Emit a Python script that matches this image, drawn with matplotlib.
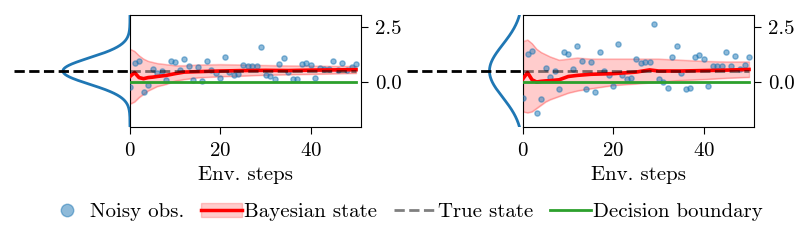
import numpy as np
import matplotlib
matplotlib.use("Agg")
import matplotlib.pyplot as plt
from matplotlib.lines import Line2D
from matplotlib.patches import Patch

plt.rcParams.update({
    "font.family": "serif",
    "font.serif": ["cmr10"],
    "mathtext.fontset": "cm",
    "axes.formatter.use_mathtext": True,
    "font.size": 15,
    "xtick.major.size": 5,
    "ytick.major.size": 5,
    "xtick.major.pad": 6,
    "ytick.major.pad": 5,
})

# données
steps = np.arange(51)
true_state = 0.5
boundary = 0.0
sigma_left = 0.6
sigma_right = 1.2

obs_left = [-0.24, 0.87, 0.96, -0.46, -0.15, 0.58, 0.4, 0.49, 0.11, 0.95,
            0.9, 0.56, 1.05, 0.73, 0.09, 0.69, 0.03, 0.95, 0.53, 0.41,
            0.18, 1.13, 0.46, 0.3, 0.35, 0.79, 0.72, 0.72, 0.75, 1.58,
            0.3, 0.26, 0.14, 0.84, 1.08, 0.46, 0.12, 0.12, 0.84, 0.88,
            0.79, 0.18, 0.64, 0.61, 0.61, 0.95, 0.56, 0.87, 0.53, 0.69, 0.84]
obs_right = [-0.75, 1.26, 1.43, -1.4, -0.78, 0.62, 0.21, 0.5, -0.33, 1.38,
             1.28, 0.58, 1.64, 0.97, -0.33, 0.9, -0.44, 1.38, 0.5, 0.32,
             -0.17, 1.73, 0.32, 0.14, 0.18, 1.04, 0.88, 0.93, 0.93, 2.65,
             0.14, 0.02, -0.29, 1.13, 1.64, 0.4, -0.31, -0.28, 1.16, 1.25,
             1.04, -0.17, 0.75, 0.73, 0.75, 1.38, 0.75, 1.19, 0.58, 0.78, 1.13]

band_x = [0, 1, 2, 3, 4, 5, 6, 8, 10, 12, 15, 20, 25, 30, 35, 40, 45, 50]
upper_left = [1.5, 1.4, 1.2, 1.05, 0.95, 0.9, 0.85, 0.8, 0.75, 0.75, 0.78, 0.8, 0.78, 0.76, 0.74, 0.73, 0.72, 0.72]
lower_left = [-1.0, -0.9, -0.7, -0.55, -0.4, -0.3, -0.2, -0.1, 0.05, 0.12, 0.2, 0.25, 0.28, 0.32, 0.34, 0.36, 0.38, 0.4]
upper_right = [1.85, 1.92, 1.75, 1.5, 1.35, 1.25, 1.15, 1.0, 1.05, 1.1, 1.05, 1.05, 1.05, 1.05, 1.0, 0.95, 0.92, 0.92]
lower_right = [-1.35, -1.4, -1.35, -1.2, -1.05, -0.9, -0.8, -0.65, -0.5, -0.4, -0.3, -0.15, -0.08, 0.0, 0.08, 0.12, 0.18, 0.22]

mean_x_left = [0, 1, 2, 3, 4, 5, 6, 8, 10, 12, 15, 20, 25, 30, 35, 40, 45, 50]
mean_left = [0.25, 0.43, 0.2, 0.15, 0.2, 0.22, 0.25, 0.3, 0.38, 0.45, 0.47, 0.5, 0.52, 0.53, 0.52, 0.54, 0.55, 0.56]
mean_x_right = [0, 1, 2, 3, 4, 5, 6, 8, 10, 12, 15, 20, 25, 28, 30, 35, 40, 45, 50]
mean_right = [0.15, 0.43, 0.1, 0.0, 0.03, 0.05, 0.06, 0.1, 0.25, 0.3, 0.35, 0.38, 0.45, 0.55, 0.5, 0.5, 0.52, 0.54, 0.57]

panels = [
    (obs_left, upper_left, lower_left, mean_x_left, mean_left, sigma_left),
    (obs_right, upper_right, lower_right, mean_x_right, mean_right, sigma_right),
]

W, H = 809, 245
fig = plt.figure(figsize=(W / 100, H / 100), dpi=100)

main_left = [130, 523]
side_left = [14, 407]
y0, y1 = 127, 15

for k, (obs, up, lo, mx, mean, sig) in enumerate(panels):
    ax = fig.add_axes([main_left[k] / W, (H - y0) / H, 231 / W, (y0 - y1) / H])
    ax.fill_between(band_x, lo, up, color="red", alpha=0.2, lw=1)
    ax.plot(band_x, up, color="red", alpha=0.15, lw=1)
    ax.plot(band_x, lo, color="red", alpha=0.15, lw=1)
    ax.scatter(steps, obs, s=14, color="tab:blue", alpha=0.5, zorder=3)
    ax.plot(mx, mean, color="red", lw=2.6, zorder=4)
    ax.plot([0, 50], [true_state, true_state], color="black", ls="--", lw=2, alpha=0.5, zorder=5)
    ax.plot([0, 50], [boundary, boundary], color="tab:green", lw=2, zorder=4)
    ax.set_xlim(0, 51.1)
    ax.set_ylim(-2.05, 3.05)
    ax.set_xticks([0, 20, 40])
    ax.yaxis.tick_right()
    ax.set_yticks([0, 2.5])
    ax.set_yticklabels(["0.0", "2.5"])
    ax.set_xlabel("Env. steps", labelpad=4)

    # densité à gauche
    side = fig.add_axes([side_left[k] / W, (H - y0) / H, 116 / W, (y0 - y1) / H])
    yy = np.linspace(-2.05, 3.05, 400)
    pdf = np.exp(-0.5 * ((yy - true_state) / sig) ** 2) / (sig * np.sqrt(2 * np.pi))
    side.plot(pdf, yy, color="tab:blue", lw=2)
    side.axhline(true_state, color="black", ls="--", lw=2)
    side.set_xlim(1.15, 0)
    side.set_ylim(-2.05, 3.05)
    side.axis("off")

handles = [
    Line2D([], [], marker="o", ls="", color="tab:blue", alpha=0.5, markersize=9),
    (Patch(facecolor="red", alpha=0.2, edgecolor="red"), Line2D([], [], color="red", lw=2.5)),
    Line2D([], [], color="black", ls="--", lw=2, alpha=0.5),
    Line2D([], [], color="tab:green", lw=2),
]
labels = ["Noisy obs.", "Bayesian state", "True state", "Decision boundary"]
fig.legend(handles, labels, loc="center", bbox_to_anchor=(0.5, 1 - 212 / H), ncol=4,
           frameon=False, fontsize=15, handlelength=2.0, handletextpad=0.1,
           columnspacing=0.8)

fig.savefig("out.png", dpi=100)
